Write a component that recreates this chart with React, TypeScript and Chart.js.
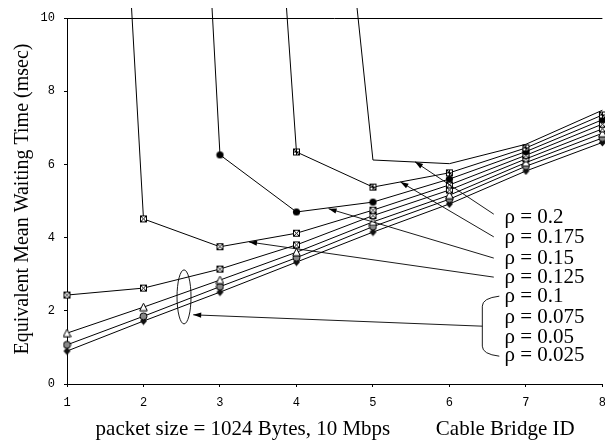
import React, { useEffect, useRef } from 'react';
import { Chart, registerables } from 'chart.js';

Chart.register(...registerables);

// ---- data ----
const bridgeIds = [1, 2, 3, 4, 5, 6, 7, 8];
const rho0200 = [null, null, null, 26.1, 6.12, 6.02, 6.55, 7.48];
const rho0175 = [null, null, 36.6, 6.34, 5.38, 5.77, 6.45, 7.35];
const rho0150 = [null, 44.9, 6.26, 4.7, 4.97, 5.6, 6.35, 7.22];
const rho0125 = [41.4, 4.51, 3.75, 4.12, 4.75, 5.44, 6.25, 7.1];
const rho0100 = [2.43, 2.62, 3.14, 3.8, 4.6, 5.3, 6.15, 6.97];
const rho0075 = [1.39, 2.1, 2.84, 3.6, 4.43, 5.16, 6.05, 6.85];
const rho0050 = [1.07, 1.85, 2.66, 3.45, 4.3, 5.05, 5.95, 6.72];
const rho0025 = [0.9, 1.72, 2.51, 3.33, 4.15, 4.92, 5.82, 6.6];

const seriesLabels = ['ρ = 0.2', 'ρ = 0.175', 'ρ = 0.15', 'ρ = 0.125', 'ρ = 0.1', 'ρ = 0.075', 'ρ = 0.05', 'ρ = 0.025'];
const yTickValues = [0, 2, 4, 6, 8, 10];
const yTitle = 'Equivalent Mean Waiting Time (msec)';
const xTitleLeft = 'packet size = 1024 Bytes, 10 Mbps';
const xTitleRight = 'Cable Bridge ID';

// annotation anchors in data coordinates
const labelX = 6.72;
const labelY = [4.54, 3.99, 3.44, 2.92, 2.38, 1.83, 1.28, 0.79];
const arrowTails = [[6.58, 4.64], [6.58, 4.02], [6.58, 3.44], [6.58, 2.92]];
const arrowHeads = [[5.55, 6.07], [5.36, 5.52], [4.42, 4.79], [3.38, 3.88]];
const braceX = 6.43;
const braceTop = 2.4;
const braceBottom = 0.76;
const braceMid = 1.58;
const ellipseCenter = [2.53, 2.38];
const ellipseHead = [2.65, 1.89];

function makeMarker(kind: string): HTMLCanvasElement {
  const s = 9;
  const c = document.createElement('canvas');
  c.width = s;
  c.height = s;
  const g = c.getContext('2d')!;
  g.lineWidth = 1;
  g.strokeStyle = '#000';
  if (kind === 'squareX' || kind === 'squarePlus') {
    g.fillStyle = '#fff';
    g.fillRect(1, 1, 7, 7);
    g.strokeRect(1.5, 1.5, 6, 6);
    g.beginPath();
    if (kind === 'squareX') {
      g.moveTo(1.5, 1.5); g.lineTo(7.5, 7.5);
      g.moveTo(7.5, 1.5); g.lineTo(1.5, 7.5);
    } else {
      g.moveTo(4.5, 1.5); g.lineTo(4.5, 7.5);
      g.moveTo(1.5, 4.5); g.lineTo(7.5, 4.5);
      g.moveTo(1.5, 1.5); g.lineTo(7.5, 7.5);
    }
    g.stroke();
  } else if (kind === 'dot') {
    g.fillStyle = '#000';
    g.beginPath();
    g.arc(4.5, 4.5, 3.6, 0, Math.PI * 2);
    g.fill();
  } else if (kind === 'triangle') {
    g.fillStyle = '#fff';
    g.beginPath();
    g.moveTo(4.5, 0.5); g.lineTo(8.3, 8); g.lineTo(0.7, 8); g.closePath();
    g.fill();
    g.stroke();
  } else if (kind === 'shaded') {
    g.fillStyle = '#888';
    g.beginPath();
    g.arc(4.5, 4.5, 3.5, 0, Math.PI * 2);
    g.fill();
    g.stroke();
  } else if (kind === 'dark') {
    g.fillStyle = '#111';
    g.beginPath();
    g.moveTo(4.5, 0.5); g.lineTo(8, 4.5); g.lineTo(4.5, 8.5); g.lineTo(1, 4.5); g.closePath();
    g.fill();
  }
  return c;
}

function arrow(ctx: CanvasRenderingContext2D, x1: number, y1: number, x2: number, y2: number) {
  ctx.beginPath();
  ctx.moveTo(x1, y1);
  ctx.lineTo(x2, y2);
  ctx.stroke();
  const a = Math.atan2(y2 - y1, x2 - x1);
  const len = 8;
  const w = 2.6;
  ctx.beginPath();
  ctx.moveTo(x2, y2);
  ctx.lineTo(x2 - len * Math.cos(a) + w * Math.sin(a), y2 - len * Math.sin(a) - w * Math.cos(a));
  ctx.lineTo(x2 - len * Math.cos(a) - w * Math.sin(a), y2 - len * Math.sin(a) + w * Math.cos(a));
  ctx.closePath();
  ctx.fill();
}

const annotationPlugin = {
  id: 'annotations',
  afterDraw(chart: any) {
    const { ctx, chartArea, scales } = chart;
    const xs = scales.x;
    const ys = scales.y;
    const px = (v: number) => xs.getPixelForValue(v);
    const py = (v: number) => ys.getPixelForValue(v);
    ctx.save();
    ctx.strokeStyle = '#000';
    ctx.fillStyle = '#000';
    ctx.lineWidth = 1;
    // top frame line
    ctx.beginPath();
    ctx.moveTo(chartArea.left, Math.round(chartArea.top) + 0.5);
    ctx.lineTo(chartArea.right, Math.round(chartArea.top) + 0.5);
    ctx.stroke();

    // labels
    ctx.font = '21px "Liberation Serif"';
    ctx.textAlign = 'left';
    ctx.textBaseline = 'middle';
    seriesLabels.forEach((t, i) => {
      ctx.fillText(t, px(labelX), py(labelY[i]));
    });

    // arrows
    ctx.lineWidth = 0.9;
    arrowTails.forEach((tail, i) => {
      const h = arrowHeads[i];
      arrow(ctx, px(tail[0]), py(tail[1]), px(h[0]), py(h[1]));
    });

    // brace
    const bx = px(braceX);
    const bt = py(braceTop);
    const bb = py(braceBottom);
    const bm = py(braceMid);
    ctx.beginPath();
    ctx.moveTo(bx + 17, bt);
    ctx.quadraticCurveTo(bx, bt + 2, bx, bt + 10);
    ctx.lineTo(bx, bb - 10);
    ctx.quadraticCurveTo(bx, bb - 2, bx + 17, bb);
    ctx.stroke();
    arrow(ctx, bx, bm, px(ellipseHead[0]), py(ellipseHead[1]));

    // ellipse
    ctx.beginPath();
    ctx.ellipse(px(ellipseCenter[0]), py(ellipseCenter[1]), 7, 27, 0, 0, Math.PI * 2);
    ctx.stroke();

    // axis titles
    ctx.font = '21px "Liberation Serif"';
    ctx.textAlign = 'center';
    ctx.textBaseline = 'middle';
    ctx.fillText(xTitleLeft, px(3.3), chartArea.bottom + 45);
    ctx.fillText(xTitleRight, px(6.73), chartArea.bottom + 45);
    ctx.font = '20px "Liberation Serif"';
    ctx.translate(23, 199);
    ctx.rotate(-Math.PI / 2);
    ctx.fillText(yTitle, 0, 0);
    ctx.restore();
  },
};

export default function App() {
  const ref = useRef<HTMLCanvasElement | null>(null);
  useEffect(() => {
    const canvas = ref.current!;
    const mk = {
      squarePlus: makeMarker('squarePlus'),
      dot: makeMarker('dot'),
      squareX: makeMarker('squareX'),
      triangle: makeMarker('triangle'),
      shaded: makeMarker('shaded'),
      dark: makeMarker('dark'),
    };
    const series = [
      { data: rho0200, m: null },
      { data: rho0175, m: mk.squarePlus },
      { data: rho0150, m: mk.dot },
      { data: rho0125, m: mk.squareX },
      { data: rho0100, m: mk.squareX },
      { data: rho0075, m: mk.triangle },
      { data: rho0050, m: mk.shaded },
      { data: rho0025, m: mk.dark },
    ];
    const datasets = series.map((s, i) => ({
      label: seriesLabels[i],
      data: bridgeIds.map((x, j) => ({ x, y: s.data[j] })),
      borderColor: '#000',
      borderWidth: 1,
      backgroundColor: '#000',
      pointStyle: s.m ? s.m : 'circle',
      pointRadius: s.m ? 4.5 : 0,
      pointHoverRadius: s.m ? 4.5 : 0,
      tension: 0,
      spanGaps: false,
      clip: { left: 10, top: 10, right: 10, bottom: 10 },
    }));
    const chart = new Chart(canvas, {
      type: 'line',
      data: { datasets: datasets as any },
      options: {
        responsive: false,
        animation: false,
        devicePixelRatio: 1,
        layout: { padding: { top: 18, right: 9, left: 0, bottom: 0 } },
        plugins: { legend: { display: false }, tooltip: { enabled: false } },
        scales: {
          x: {
            type: 'linear',
            min: 1,
            max: 8,
            afterFit: (s: any) => { s.height = 59; },
            ticks: {
              stepSize: 1,
              color: '#000',
              padding: 9,
              font: { family: '"Liberation Mono"', size: 12 },
            },
            grid: { drawOnChartArea: false, color: '#000', tickLength: 3 },
            border: { display: true, color: '#000', width: 1 },
          },
          y: {
            type: 'linear',
            min: 0,
            max: 10,
            afterFit: (s: any) => { s.width = 67; },
            afterBuildTicks: (s: any) => { s.ticks = yTickValues.map((v) => ({ value: v })); },
            ticks: {
              color: '#000',
              padding: 9,
              font: { family: '"Liberation Mono"', size: 12 },
            },
            grid: { drawOnChartArea: false, color: '#000', tickLength: 3 },
            border: { display: true, color: '#000', width: 1 },
          },
        },
      },
      plugins: [annotationPlugin],
    });
    return () => chart.destroy();
  }, []);
  return (
    <div style={{ position: 'fixed', left: 0, top: 0, width: 605, height: 443, overflow: 'hidden', background: '#fff' }}>
      <canvas ref={ref} width={615} height={443} style={{ display: 'block' }} />
    </div>
  );
}
